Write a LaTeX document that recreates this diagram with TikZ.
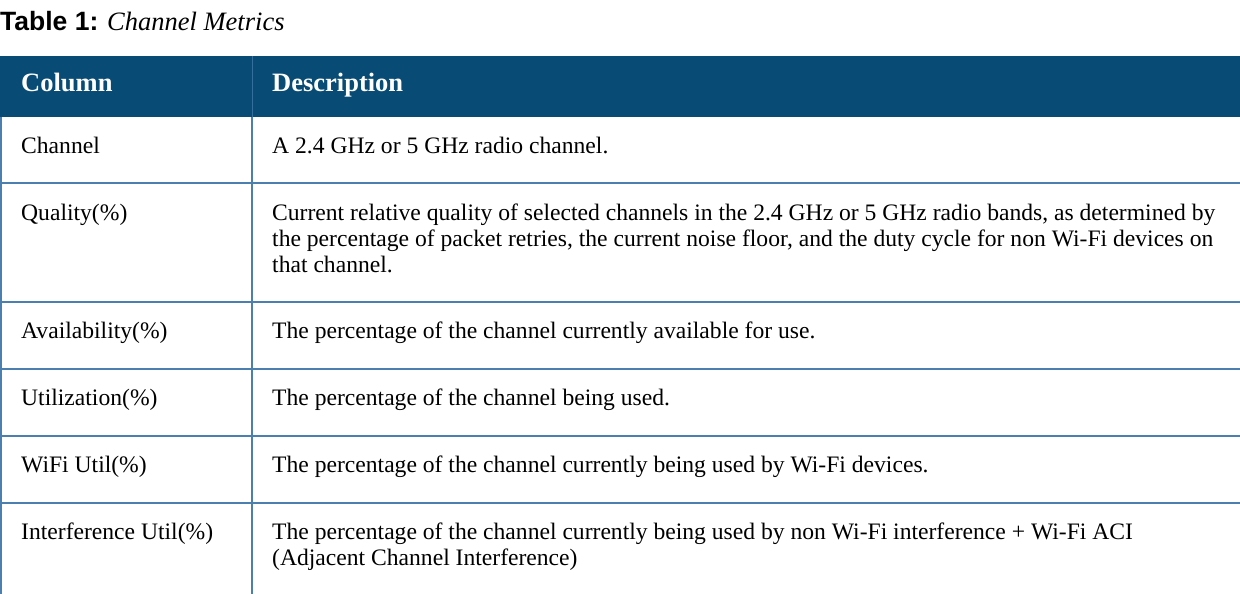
\documentclass[tikz,border=0pt]{standalone}
\usepackage{fontspec}
\setmainfont{Liberation Serif}
\newfontfamily\titlesans{Liberation Sans}
\definecolor{hdr}{HTML}{084B74}
\definecolor{rule}{HTML}{4A7FB0}
\tikzset{cell/.style={anchor=base west,inner sep=0pt,font=\fontsize{23.6}{26}\selectfont},
hcell/.style={cell,text=white,font=\fontsize{26.5}{30}\selectfont\bfseries},
rl/.style={draw=rule,line width=1.5pt}}
\begin{document}
\begin{tikzpicture}[x=1pt,y=-1pt]
\useasboundingbox (0,0) rectangle (1240,594);
\node[cell,font=\fontsize{26.5}{30}\selectfont] (title) at (0,31) {{\titlesans\bfseries Table 1:} \textit{Channel Metrics}};
\fill[hdr] (0,56) rectangle (1240,117);
\draw[draw=rule!70!hdr,line width=1pt] (252,56) -- (252,117);
\node[hcell] (h1) at (21,92) {Column};
\node[hcell] (h2) at (272,92) {Description};
\draw[rl] (1,117) -- (1,594);
\draw[rl] (252,117) -- (252,594);
\foreach \y in {183,302,369,436,503} \draw[rl] (0,\y) -- (1240,\y);
\node[cell] (c1) at (21,153) {Channel};
\node[cell] (d1) at (272,153) {A 2.4 GHz or 5 GHz radio channel.};
\node[cell] (c2) at (21,220) {Quality(\%)};
\node[cell] (d2a) at (272,220) {Current relative quality of selected channels in the 2.4 GHz or 5 GHz radio bands, as determined by};
\node[cell] (d2b) at (272,246) {the percentage of packet retries, the current noise floor, and the duty cycle for non Wi-Fi devices on};
\node[cell] (d2c) at (272,272) {that channel.};
\node[cell] (c3) at (21,338) {Availability(\%)};
\node[cell] (d3) at (272,338) {The percentage of the channel currently available for use.};
\node[cell] (c4) at (21,405) {Utilization(\%)};
\node[cell] (d4) at (272,405) {The percentage of the channel being used.};
\node[cell] (c5) at (21,472) {WiFi Util(\%)};
\node[cell] (d5) at (272,472) {The percentage of the channel currently being used by Wi-Fi devices.};
\node[cell] (c6) at (21,539) {Interference Util(\%)};
\node[cell] (d6a) at (272,539) {The percentage of the channel currently being used by non Wi-Fi interference + Wi-Fi ACI};
\node[cell] (d6b) at (272,565) {(Adjacent Channel Interference)};
\end{tikzpicture}
\end{document}
